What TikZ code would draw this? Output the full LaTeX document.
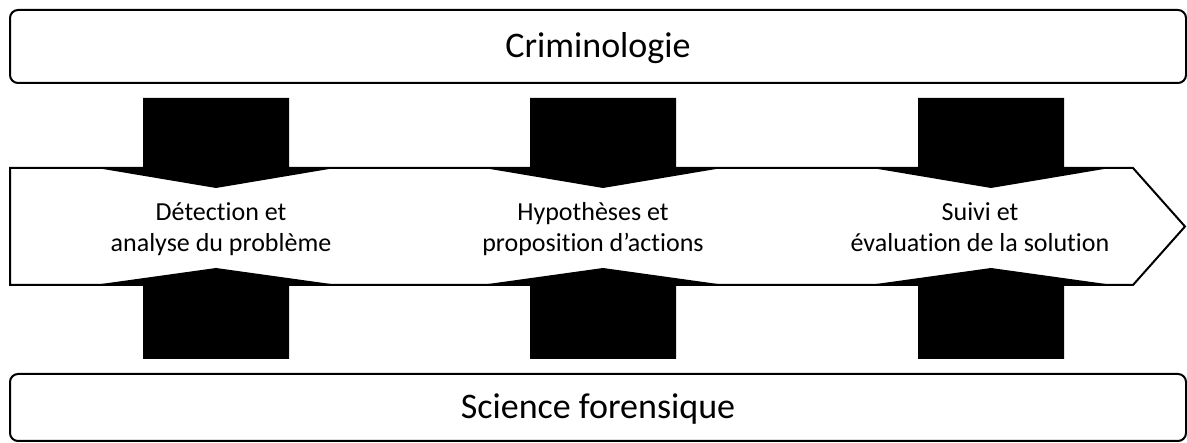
\documentclass[tikz,border=0pt]{standalone}
\usepackage{fontspec}
\setmainfont[Ligatures=NoCommon]{Carlito}
\usetikzlibrary{positioning}

\begin{document}
\begin{tikzpicture}[
  x=1pt, y=-1pt,
  lane/.style={draw, line width=2pt, rounded corners=8pt, minimum width=1176pt,
    inner sep=0pt, font=\fontsize{36}{43}\selectfont, text height=23pt, text depth=0pt},
  band/.style={draw, line width=2pt, fill=white, line join=miter},
  steptext/.style={align=center, font=\fontsize{26}{31}\selectfont, inner sep=0pt, anchor=base},
  blockarrow/.style={fill=black},
]
  \useasboundingbox (0,0) rectangle (1187,443);

  % Two disciplines framing the process
  \node[lane, minimum height=73pt] (crim) at (598,46.5) {Criminologie};
  \node[lane, minimum height=67pt] (forens) at (598,407.5) {Science forensique};

  % Process band pointing right
  \draw[band] (10,168) -- (1133,168) -- (1185,226.5) -- (1133,285) -- (10,285) -- cycle;

  % Block arrows from above and below
  \foreach \c in {216,603,991} {
    \fill[blockarrow] (\c-73,98) -- (\c+73,98) -- (\c+73,168) -- (\c+119,168)
      -- (\c,188) -- (\c-119,168) -- (\c-73,168) -- cycle;
    \fill[blockarrow] (\c-73,359) -- (\c+73,359) -- (\c+73,285) -- (\c+122,285)
      -- (\c,268) -- (\c-122,285) -- (\c-73,285) -- cycle;
  }

  % Steps
  \node[steptext] (detect) at (221,252) {Détection et\\analyse du problème};
  \node[steptext] (hypo)   at (593,252) {Hypothèses et\\proposition d’actions};
  \node[steptext] (suivi)  at (980,252) {Suivi et\\évaluation de la solution};
\end{tikzpicture}
\end{document}
